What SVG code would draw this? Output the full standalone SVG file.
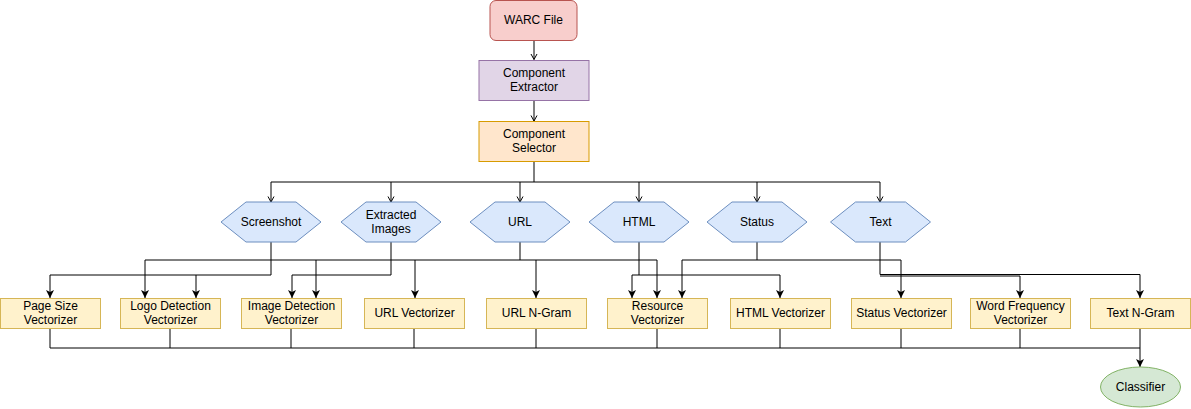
<svg xmlns="http://www.w3.org/2000/svg" width="1191" height="409" viewBox="0 0 1191 409">
<style>
text{font-family:"Liberation Sans",Arial,sans-serif;font-size:12px;fill:#000;text-anchor:middle}
.e{fill:none;stroke:#000;stroke-width:1}
.vec{fill:#fff2cc;stroke:#d6b656}
.hex{fill:#dae8fc;stroke:#6c8ebf}
</style>
<defs>
<marker id="open" markerUnits="userSpaceOnUse" markerWidth="10" markerHeight="10" refX="6" refY="3.5" orient="auto">
<path d="M0.5,0.5 L6,3.5 L0.5,6.5" fill="none" stroke="#000" stroke-width="1"/>
</marker>
<marker id="fill" markerUnits="userSpaceOnUse" markerWidth="10" markerHeight="10" refX="8" refY="4" orient="auto">
<path d="M0,0 L8,4 L0,8 L2,4 Z" fill="#000"/>
</marker>
</defs>
<g id="connectors">
<path class="e" d="M534,41 V59.5" marker-end="url(#open)"/>
<path class="e" d="M534,100.5 V121" marker-end="url(#open)"/>
<path class="e" d="M534,162 V182" stroke-width="2"/>
<path class="e" d="M271,182 H880"/>
<path class="e" d="M271,182 V202" marker-end="url(#open)"/>
<path class="e" d="M391,182 V202" marker-end="url(#open)"/>
<path class="e" d="M520,182 V202" marker-end="url(#open)"/>
<path class="e" d="M639,182 V202" marker-end="url(#open)"/>
<path class="e" d="M757,182 V202" marker-end="url(#open)"/>
<path class="e" d="M880,182 V202" marker-end="url(#open)"/>
<path class="e" d="M271,242 V275 H50 V298" marker-end="url(#fill)"/>
<path class="e" d="M196,275 V298" marker-end="url(#fill)"/>
<path class="e" d="M391,242 V275 H292 V298" marker-end="url(#fill)"/>
<path class="e" d="M520,242 V260"/>
<path class="e" d="M145,260 H657 V298" marker-end="url(#fill)"/>
<path class="e" d="M145,260 V298" marker-end="url(#fill)"/>
<path class="e" d="M316,260 V298" marker-end="url(#fill)"/>
<path class="e" d="M415,260 V298" marker-end="url(#fill)"/>
<path class="e" d="M536,260 V298" marker-end="url(#fill)"/>
<path class="e" d="M639,242 V275"/>
<path class="e" d="M632,275 H780 V298" marker-end="url(#fill)"/>
<path class="e" d="M632,275 V298" marker-end="url(#fill)"/>
<path class="e" d="M757,242 V260"/>
<path class="e" d="M682,260 H901 V298" marker-end="url(#fill)"/>
<path class="e" d="M682,260 V298" marker-end="url(#fill)"/>
<path class="e" d="M880,242 V274.5 H1140 V298" marker-end="url(#fill)"/>
<path class="e" d="M880,276 H1020 V298" marker-end="url(#fill)"/>
<path class="e" d="M50,328 V348 H1140"/>
<path class="e" d="M170,328 V348"/>
<path class="e" d="M291,328 V348"/>
<path class="e" d="M414,328 V348"/>
<path class="e" d="M536,328 V348"/>
<path class="e" d="M657,328 V348"/>
<path class="e" d="M780,328 V348"/>
<path class="e" d="M901,328 V348"/>
<path class="e" d="M1020,328 V348"/>
<path class="e" d="M1140,328 V367" marker-end="url(#fill)"/>
</g>
<g id="warc">
<rect x="490" y="0.5" width="87" height="40" rx="6" fill="#f8cecc" stroke="#b85450"/>
<text x="533.5" y="24">WARC File</text>
</g>
<g id="extractor">
<rect x="479" y="60.5" width="110" height="40" fill="#e1d5e7" stroke="#9673a6"/>
<text x="534" y="77">Component</text>
<text x="534" y="91">Extractor</text>
</g>
<g id="selector">
<rect x="479" y="121.5" width="110" height="40" fill="#ffe6cc" stroke="#d79b00"/>
<text x="534" y="138">Component</text>
<text x="534" y="152">Selector</text>
</g>
<g id="screenshot">
<polygon class="hex" points="221,222 246,202 296,202 321,222 296,242 246,242"/>
<text x="271" y="226">Screenshot</text>
</g>
<g id="extracted-images">
<polygon class="hex" points="341,222 366,202 416,202 441,222 416,242 366,242"/>
<text x="391" y="219">Extracted</text>
<text x="391" y="233">Images</text>
</g>
<g id="url">
<polygon class="hex" points="470,222 495,202 545,202 570,222 545,242 495,242"/>
<text x="520" y="226">URL</text>
</g>
<g id="html">
<polygon class="hex" points="589,222 614,202 664,202 689,222 664,242 614,242"/>
<text x="639" y="226">HTML</text>
</g>
<g id="status">
<polygon class="hex" points="707,222 732,202 782,202 807,222 782,242 732,242"/>
<text x="757" y="226">Status</text>
</g>
<g id="text">
<polygon class="hex" points="830.5,222 855.5,202 905.5,202 930.5,222 905.5,242 855.5,242"/>
<text x="880.5" y="226">Text</text>
</g>
<g id="page-size">
<rect class="vec" x="0.5" y="298.5" width="100" height="30"/>
<text x="50.5" y="310">Page Size</text>
<text x="50.5" y="324">Vectorizer</text>
</g>
<g id="logo-detection">
<rect class="vec" x="120.5" y="298.5" width="100" height="30"/>
<text x="170.5" y="310">Logo Detection</text>
<text x="170.5" y="324">Vectorizer</text>
</g>
<g id="image-detection">
<rect class="vec" x="241.5" y="298.5" width="100" height="30"/>
<text x="291.5" y="310">Image Detection</text>
<text x="291.5" y="324">Vectorizer</text>
</g>
<g id="url-vectorizer">
<rect class="vec" x="364.5" y="298.5" width="100" height="30"/>
<text x="414.5" y="317">URL Vectorizer</text>
</g>
<g id="url-ngram">
<rect class="vec" x="486.5" y="298.5" width="100" height="30"/>
<text x="536.5" y="317">URL N-Gram</text>
</g>
<g id="resource-vectorizer">
<rect class="vec" x="607.5" y="298.5" width="100" height="30"/>
<text x="657.5" y="310">Resource</text>
<text x="657.5" y="324">Vectorizer</text>
</g>
<g id="html-vectorizer">
<rect class="vec" x="730.5" y="298.5" width="100" height="30"/>
<text x="780.5" y="317">HTML Vectorizer</text>
</g>
<g id="status-vectorizer">
<rect class="vec" x="851.5" y="298.5" width="100" height="30"/>
<text x="901.5" y="317">Status Vectorizer</text>
</g>
<g id="word-frequency">
<rect class="vec" x="970.5" y="298.5" width="100" height="30"/>
<text x="1020.5" y="310">Word Frequency</text>
<text x="1020.5" y="324">Vectorizer</text>
</g>
<g id="text-ngram">
<rect class="vec" x="1090.5" y="298.5" width="100" height="30"/>
<text x="1140.5" y="317">Text N-Gram</text>
</g>
<g id="classifier">
<ellipse cx="1140.5" cy="387" rx="40" ry="20" fill="#d5e8d4" stroke="#82b366"/>
<text x="1140.5" y="391">Classifier</text>
</g>
</svg>
